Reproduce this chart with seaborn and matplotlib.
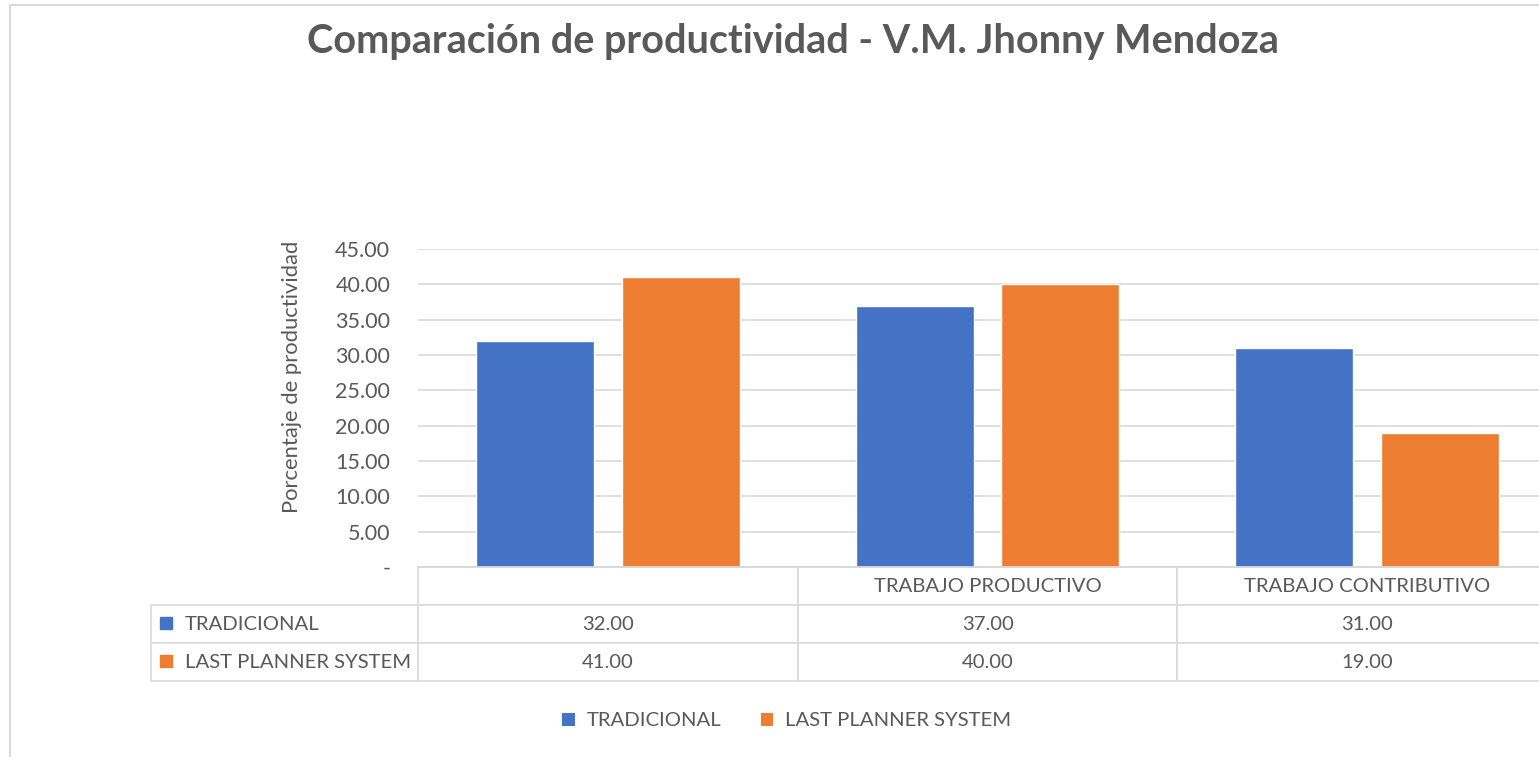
import numpy as np
import pandas as pd
import matplotlib
matplotlib.use("Agg")
import matplotlib.pyplot as plt
import seaborn as sns
from matplotlib.ticker import FuncFormatter
from matplotlib.lines import Line2D
from matplotlib.patches import Patch

# ---- data ----
categorias = ["", "TRABAJO PRODUCTIVO", "TRABAJO CONTRIBUTIVO"]
series = ["TRADICIONAL", "LAST PLANNER SYSTEM"]
tradicional = [32.0, 37.0, 31.0]
last_planner = [41.0, 40.0, 19.0]
colores = ["#4472C4", "#ED7D31"]
yticks = [0, 5, 10, 15, 20, 25, 30, 35, 40, 45]

df = pd.DataFrame({
    "categoria": categorias * 2,
    "serie": [series[0]] * 3 + [series[1]] * 3,
    "valor": tradicional + last_planner,
})

sns.set_theme(style="white")
plt.rcParams['font.family'] = ['Lato', 'DejaVu Sans']
gris = "#595959"
linea = "#d9d9d9"

W, H = 1539, 757
fig = plt.figure(figsize=(W / 100, H / 100), dpi=100)
ax = fig.add_axes([418 / W, 1 - 567 / H, (1539 - 418) / W, (567 - 249) / H])

sns.barplot(data=df, x="categoria", y="valor", hue="serie", order=categorias,
            hue_order=series, palette=colores, width=0.768, gap=0.19,
            saturation=1, errorbar=None, legend=False, ax=ax)

ax.set_ylim(0, 45)
ax.set_xlim(-0.5, 2.5 - 18 / 379)
ax.set_yticks(yticks)
ax.yaxis.set_major_formatter(FuncFormatter(lambda v, p: "-" if v == 0 else f"{v:.2f}"))
ax.tick_params(axis="y", length=0, pad=20, labelsize=15.5, labelcolor=gris)
ax.tick_params(axis="x", length=0, labelbottom=False)
ax.yaxis.grid(True, color=linea, lw=1.2)
ax.set_axisbelow(True)
for s in ["top", "right", "left"]:
    ax.spines[s].set_visible(False)
ax.spines["bottom"].set_color(linea)
ax.set_xlabel("")
ax.set_ylabel("Porcentaje de productividad", fontsize=15.8, color=gris)
ax.yaxis.set_label_coords(-0.1035, 0.597)

# ---- data table below the axis ----
celdas = [[""] + categorias,
          [series[0]] + [f"{v:.2f}" for v in tradicional],
          [series[1]] + [f"{v:.2f}" for v in last_planner]]
anchos = np.array([267, 379, 379, 379], dtype=float)
tabla = ax.table(cellText=celdas, colWidths=list(anchos / anchos.sum()),
                 cellLoc="center",
                 bbox=[(151 - 418) / 1121, -114 / 318, (1557 - 151) / 1121, 114 / 318])
tabla.auto_set_font_size(False)
for (r, c), cell in tabla.get_celld().items():
    cell.set_edgecolor(linea)
    cell.set_linewidth(1.2)
    cell.get_text().set_color(gris)
    cell.get_text().set_fontsize(14.6)
    if r == 0 and c == 0:
        cell.visible_edges = "open"
    if c == 0 and r > 0:
        cell._loc = "left"
        cell.PAD = 34 / 267
        cell.get_text().set_horizontalalignment("left")
for i, col in enumerate(colores):
    ax.plot([(166 - 418) / 1121], [-(56 + 38 * i) / 318], marker="s", ms=8.5,
            color=col, transform=ax.transAxes, clip_on=False, ls="none")

# ---- title, legend, frame ----
fig.text(0.515, 1 - 42 / H, "Comparación de productividad - V.M. Jhonny Mendoza",
         ha="center", va="center", fontsize=28.5, fontweight="bold", color=gris)
handles = [Patch(facecolor=c, edgecolor="none") for c in colores]
fig.legend(handles, series, loc="center", bbox_to_anchor=(787 / W, 1 - 721 / H),
           ncol=2, frameon=False, fontsize=14.6, labelcolor=gris,
           handlelength=0.6, handleheight=0.6, handletextpad=0.6, columnspacing=1.95)
fig.add_artist(Line2D([10 / W, 10 / W], [0, 1 - 5 / H], color=linea, lw=1.5))
fig.add_artist(Line2D([10 / W, 1], [1 - 5 / H, 1 - 5 / H], color=linea, lw=1.5))

plt.savefig("out.png", dpi=100)
